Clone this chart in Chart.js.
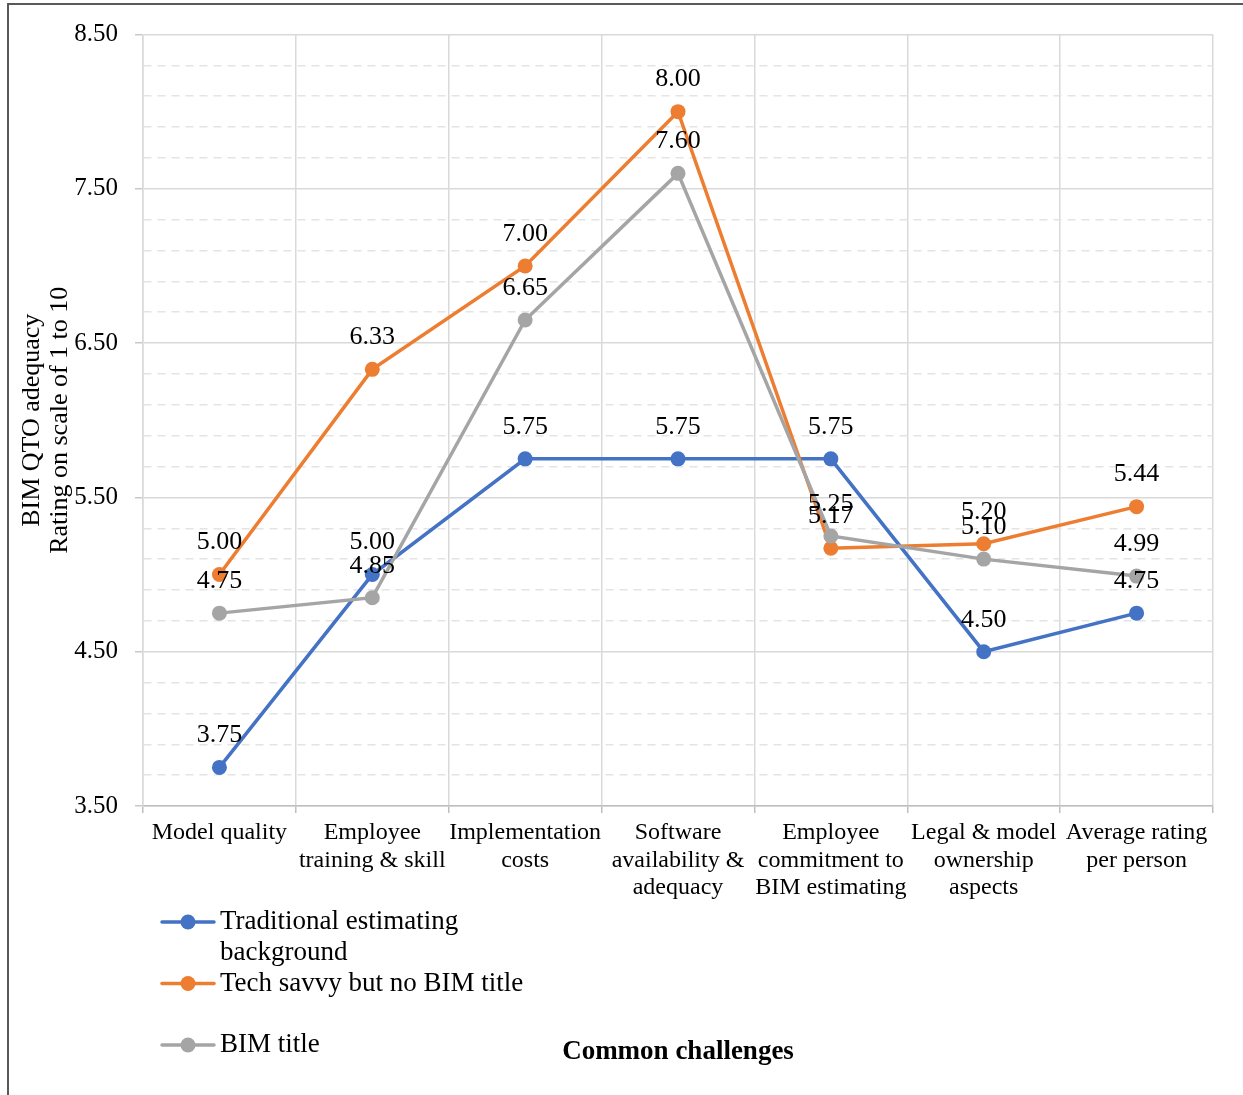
<!DOCTYPE html>
<html>
<head>
<meta charset="utf-8">
<title>BIM QTO adequacy</title>
<script src="https://cdn.jsdelivr.net/npm/chart.js@4.4.1/dist/chart.umd.min.js"></script>
<style>
  html, body { margin: 0; padding: 0; background: #fff; }
  #frame {
    position: absolute;
    left: 7px;
    top: 3px;
    width: 1236px;
    height: 1092px;
    border-left: 2px solid #595959;
    border-top: 2px solid #595959;
  }
  #chart { display: block; }
</style>
</head>
<body>
<div id="frame">
  <canvas id="chart" width="1234" height="1090"></canvas>
</div>

<script>
// ========================== DATA ==========================
const categories = [
  "Model quality",
  ["Employee", "training & skill"],
  ["Implementation", "costs"],
  ["Software", "availability &", "adequacy"],
  ["Employee", "commitment to", "BIM estimating"],
  ["Legal & model", "ownership", "aspects"],
  ["Average rating", "per person"]
];

const seriesNames = [
  ["Traditional estimating", "background"],
  ["Tech savvy but no BIM title"],
  ["BIM title"]
];

const traditional = [3.75, 5.00, 5.75, 5.75, 5.75, 4.50, 4.75];
const techSavvy   = [5.00, 6.33, 7.00, 8.00, 5.17, 5.20, 5.44];
const bimTitle    = [4.75, 4.85, 6.65, 7.60, 5.25, 5.10, 4.99];

const seriesColors = ["#4472C4", "#ED7D31", "#A5A5A5"];

const yMin = 3.5;
const yMax = 8.5;
const yMinorStep = 0.2;

// ========================== HELPERS ==========================
const SERIF = "'Liberation Serif', 'Times New Roman', serif";

function isMajor(v) {
  return Math.round((v - yMin) * 10) % 10 === 0;
}

// value labels above every point
const valueLabels = {
  id: "valueLabels",
  afterDatasetsDraw(chart) {
    const ctx = chart.ctx;
    ctx.save();
    ctx.font = "26px " + SERIF;
    ctx.fillStyle = "#000";
    ctx.textAlign = "center";
    ctx.textBaseline = "middle";
    chart.data.datasets.forEach((ds, i) => {
      const meta = chart.getDatasetMeta(i);
      meta.data.forEach((pt, j) => {
        ctx.fillText(ds.data[j].toFixed(2), pt.x, pt.y - 32);
      });
    });
    ctx.restore();
  }
};

// stacked legend in the lower left corner
const sideLegend = {
  id: "sideLegend",
  afterDraw(chart, args, opts) {
    const ctx = chart.ctx;
    ctx.save();
    ctx.font = "27px " + SERIF;
    ctx.textBaseline = "middle";
    chart.data.datasets.forEach((ds, i) => {
      const y = opts.top + i * opts.rowGap;
      ctx.strokeStyle = ds.borderColor;
      ctx.lineWidth = 3.5;
      ctx.lineCap = "round";
      ctx.beginPath();
      ctx.moveTo(opts.left, y);
      ctx.lineTo(opts.left + 52, y);
      ctx.stroke();
      ctx.fillStyle = ds.borderColor;
      ctx.beginPath();
      ctx.arc(opts.left + 26, y, 7.5, 0, Math.PI * 2);
      ctx.fill();
      ctx.fillStyle = "#000";
      seriesNames[i].forEach((line, k) => {
        ctx.fillText(line, opts.left + 58, y + k * opts.lineGap);
      });
    });
    ctx.restore();
  }
};

// ========================== CHART ==========================
const seriesValues = [traditional, techSavvy, bimTitle];

new Chart(document.getElementById("chart"), {
  type: "line",
  data: {
    labels: categories,
    datasets: seriesValues.map((vals, i) => ({
      label: seriesNames[i].join(" "),
      data: vals,
      borderColor: seriesColors[i],
      backgroundColor: seriesColors[i],
      pointBackgroundColor: seriesColors[i],
      pointBorderColor: seriesColors[i],
      borderWidth: 3.5,
      pointRadius: 7.5,
      pointBorderWidth: 0,
      tension: 0,
      order: seriesValues.length - i
    }))
  },
  options: {
    responsive: false,
    animation: false,
    devicePixelRatio: 1,
    layout: { padding: { left: 0, right: 30, top: 28, bottom: 0 } },
    plugins: {
      legend: { display: false },
      tooltip: { enabled: false },
      sideLegend: { left: 153, top: 917, rowGap: 61.5, lineGap: 31 }
    },
    scales: {
      x: {
        offset: true,
        grid: {
          offset: true,
          color: "#D9D9D9",
          lineWidth: 1.5,
          tickLength: 7,
          tickColor: "#BFBFBF"
        },
        border: { color: "#BFBFBF", width: 1.5 },
        ticks: {
          autoSkip: false,
          maxRotation: 0,
          padding: 6,
          color: "#000",
          font: { family: SERIF, size: 24, lineHeight: 1.15 }
        },
        title: {
          display: true,
          text: "Common challenges",
          color: "#000",
          padding: { top: 0, bottom: 27 },
          font: { family: SERIF, size: 27, weight: "bold", lineHeight: 1.2 }
        },
        afterFit(scale) { scale.height = 289; }
      },
      y: {
        min: yMin,
        max: yMax,
        grid: {
          color: c => (c.tick && !isMajor(c.tick.value)) ? "#E4E4E4" : "#D9D9D9",
          lineWidth: 1.5,
          tickLength: 8,
          tickColor: c => (c.tick && !isMajor(c.tick.value)) ? "rgba(0,0,0,0)" : "#C8C8C8"
        },
        border: {
          color: "#D9D9D9",
          width: 1.5,
          dash: c => (c.tick && !isMajor(c.tick.value)) ? [8, 6] : []
        },
        ticks: {
          stepSize: yMinorStep,
          autoSkip: false,
          padding: 17,
          color: "#000",
          font: { family: SERIF, size: 25, lineHeight: 1.0 },
          callback: v => isMajor(v) ? v.toFixed(2) : ""
        },
        title: {
          display: true,
          text: ["BIM QTO adequacy", "Rating on scale of 1 to 10"],
          color: "#000",
          padding: { top: 9, bottom: 0 },
          font: { family: SERIF, size: 26, lineHeight: 1.08 }
        },
        afterFit(scale) { scale.width = 134; }
      }
    }
  },
  plugins: [valueLabels, sideLegend]
});
</script>
</body>
</html>
